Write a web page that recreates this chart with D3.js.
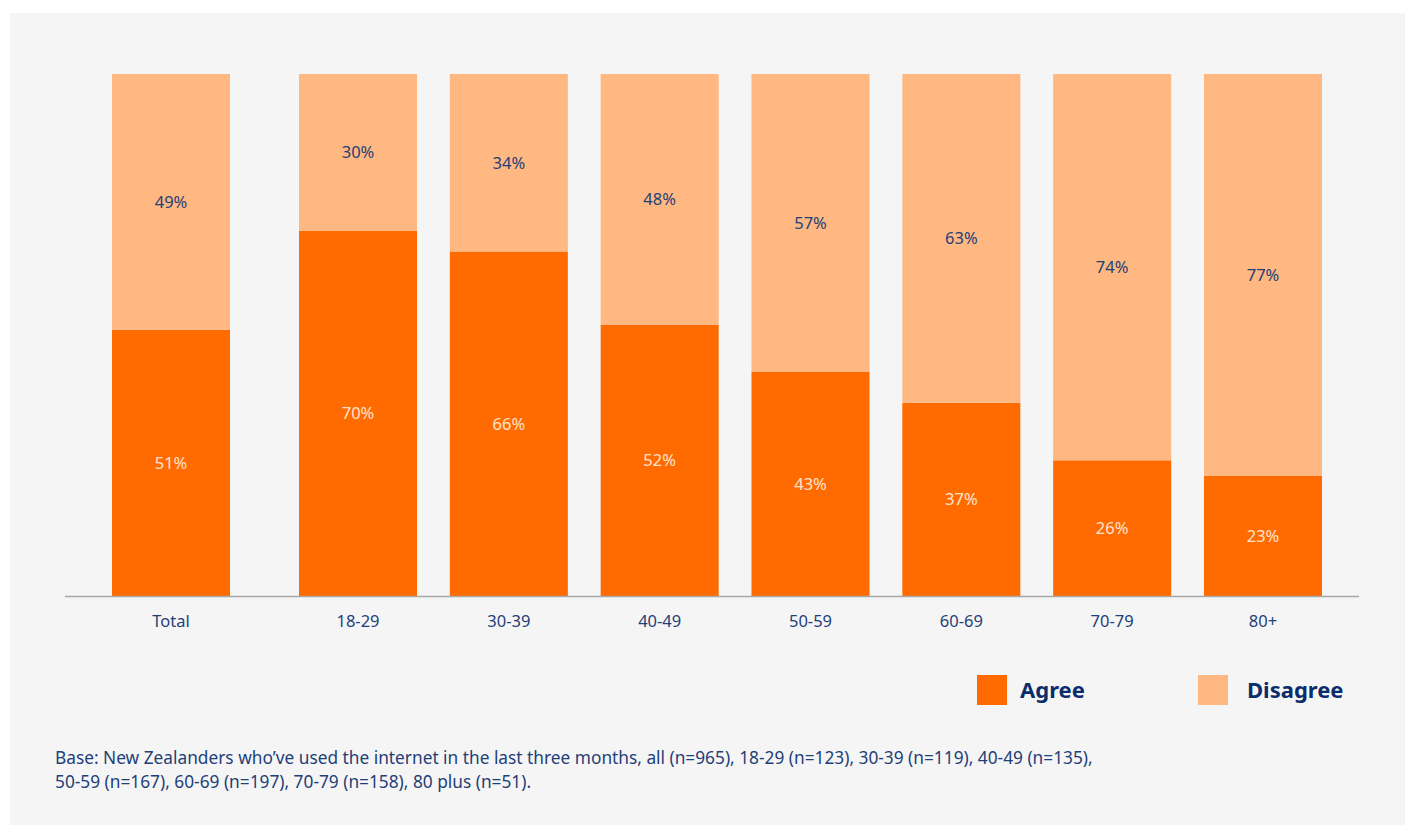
<!DOCTYPE html>
<html>
<head>
<meta charset="utf-8">
<script src="https://cdn.jsdelivr.net/npm/d3@7"></script>
<style>
  html, body { margin: 0; padding: 0; background: #ffffff; }
  svg { display: block; }
  text { font-family: "Noto Sans", "Open Sans", sans-serif; }
</style>
</head>
<body>
<svg id="chart" width="1405" height="825"></svg>
<script>
// Share who agree / disagree, by age group
const totalLabel = "Total";
const ageGroups = ["18-29", "30-39", "40-49", "50-59", "60-69", "70-79", "80+"];
const categories = [totalLabel, ...ageGroups];
const agree    = [51, 70, 66, 52, 43, 37, 26, 23];
const disagree = [49, 30, 34, 48, 57, 63, 74, 77];
const seriesNames = ["Agree", "Disagree"];
const footnoteLines = [
  "Base: New Zealanders who\u2019ve used the internet in the last three months, all (n=965), 18-29 (n=123), 30-39 (n=119), 40-49 (n=135),",
  "50-59 (n=167), 60-69 (n=197), 70-79 (n=158), 80 plus (n=51)."
];

const colors = { Agree: "#ff6b00", Disagree: "#ffb882" };
const navy = "#1f3f78";

const svg = d3.select("#chart");

// panel background
svg.append("rect")
  .attr("x", 10).attr("y", 13)
  .attr("width", 1395).attr("height", 812)
  .attr("fill", "#f5f5f5");

// age groups share an evenly spaced band scale; Total sits apart to the left
const xAge = d3.scaleBand()
  .domain(ageGroups)
  .range([299, 1322])
  .paddingInner(0.2175)
  .paddingOuter(0);
const totalOffset = 187;
const xPos = c => c === totalLabel ? xAge(ageGroups[0]) - totalOffset : xAge(c);
const bw = xAge.bandwidth();

const y = d3.scaleLinear().domain([0, 100]).range([596, 74]);

const rows = categories.map((c, i) => ({ category: c, Agree: agree[i], Disagree: disagree[i] }));
const stacked = d3.stack().keys(seriesNames)(rows);

const layers = svg.append("g").selectAll("g")
  .data(stacked)
  .join("g")
  .attr("fill", d => colors[d.key]);

layers.selectAll("rect")
  .data(d => d)
  .join("rect")
  .attr("x", d => xPos(d.data.category))
  .attr("width", bw)
  .attr("y", d => y(d[1]))
  .attr("height", d => y(d[0]) - y(d[1]));

// value labels in the middle of each segment
layers.each(function(layer) {
  d3.select(this).selectAll("text")
    .data(layer)
    .join("text")
    .attr("x", d => xPos(d.data.category) + bw / 2)
    .attr("y", d => (y(d[0]) + y(d[1])) / 2)
    .attr("dy", "0.35em")
    .attr("text-anchor", "middle")
    .attr("font-size", 16.5)
    .attr("fill", layer.key === "Agree" ? "#ffe3d0" : navy)
    .text(d => (d[1] - d[0]) + "%");
});

// baseline and category labels
svg.append("line")
  .attr("x1", 65).attr("x2", 1359)
  .attr("y1", y(0) + 0.5).attr("y2", y(0) + 0.5)
  .attr("stroke", "#a8a8a8").attr("stroke-width", 1.5);

svg.append("g").selectAll("text")
  .data(categories)
  .join("text")
  .attr("x", c => xPos(c) + bw / 2)
  .attr("y", 621)
  .attr("dy", "0.35em")
  .attr("text-anchor", "middle")
  .attr("font-size", 16.5)
  .attr("fill", navy)
  .text(c => c);

// legend
const legendX = [977, 1198];
const legend = svg.append("g").selectAll("g")
  .data(seriesNames)
  .join("g")
  .attr("transform", (d, i) => `translate(${legendX[i]},675)`);
legend.append("rect")
  .attr("width", 30).attr("height", 30)
  .attr("fill", d => colors[d]);
legend.append("text")
  .attr("x", (d, i) => i === 0 ? 43 : 49)
  .attr("y", 15)
  .attr("dy", "0.35em")
  .attr("font-size", 22)
  .attr("font-weight", "bold")
  .attr("fill", "#0c2d6b")
  .text(d => d);

// footnote
svg.append("g").selectAll("text")
  .data(footnoteLines)
  .join("text")
  .attr("x", 55)
  .attr("y", (d, i) => 758 + i * 24)
  .attr("dy", "0.35em")
  .attr("font-size", 17.3)
  .attr("fill", navy)
  .text(d => d);
</script>
</body>
</html>
